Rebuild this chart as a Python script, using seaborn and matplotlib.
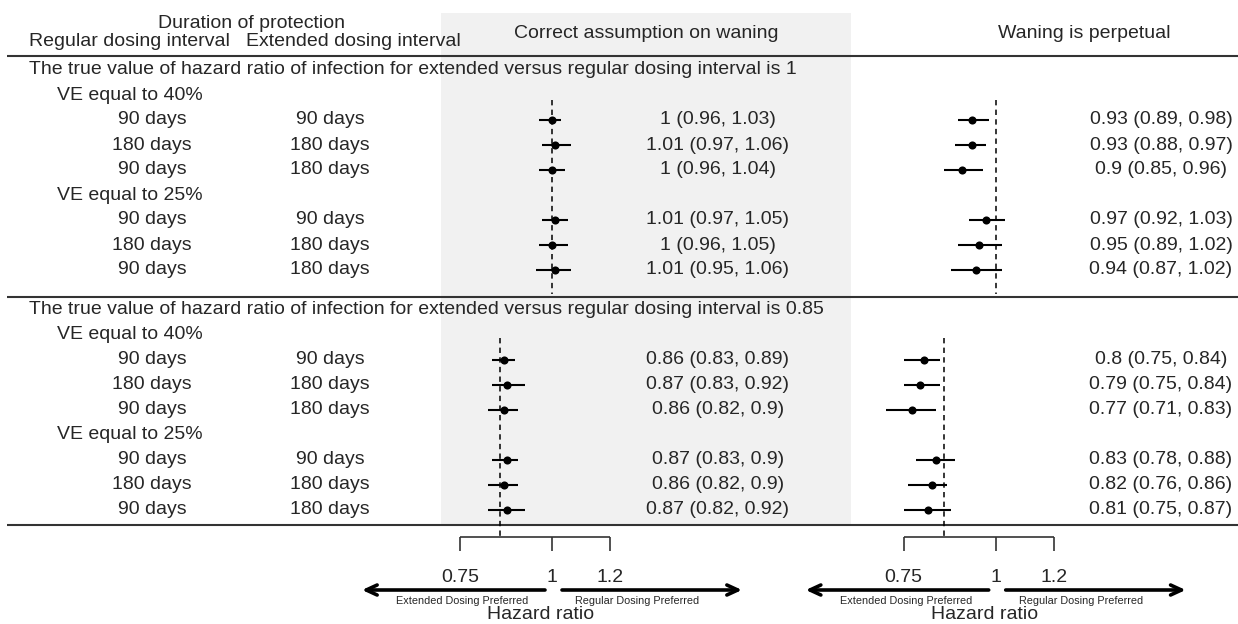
import numpy as np
import pandas as pd
import matplotlib.pyplot as plt
from matplotlib.patches import Rectangle
import seaborn as sns

## forest plot: extended vs regular dosing interval, two waning assumptions

# table columns (same for both sections)
reg_interval = ["90 days", "180 days", "90 days", "90 days", "180 days", "90 days"]
ext_interval = ["90 days", "180 days", "180 days", "90 days", "180 days", "180 days"]
ve_labels = ["VE equal to 40%", "VE equal to 25%"]
true_hr = [1, 0.85]

# correct assumption on waning
correct_est = [[1, 1.01, 1, 1.01, 1, 1.01],
               [0.86, 0.87, 0.86, 0.87, 0.86, 0.87]]
correct_lo = [[0.96, 0.97, 0.96, 0.97, 0.96, 0.95],
              [0.83, 0.83, 0.82, 0.83, 0.82, 0.82]]
correct_hi = [[1.03, 1.06, 1.04, 1.05, 1.05, 1.06],
              [0.89, 0.92, 0.9, 0.9, 0.9, 0.92]]

# waning is perpetual
perp_est = [[0.93, 0.93, 0.9, 0.97, 0.95, 0.94],
            [0.8, 0.79, 0.77, 0.83, 0.82, 0.81]]
perp_lo = [[0.89, 0.88, 0.85, 0.92, 0.89, 0.87],
           [0.75, 0.75, 0.71, 0.78, 0.76, 0.75]]
perp_hi = [[0.98, 0.97, 0.96, 1.03, 1.02, 1.02],
           [0.84, 0.84, 0.83, 0.88, 0.86, 0.87]]

x_ticks = [0.75, 1, 1.2]

sns.set_theme(style="white")
plt.rcParams['font.family'] = ['Liberation Sans', 'DejaVu Sans']
FS = 14
LINE_C = '#333333'

W, H = 1238, 624
fig = plt.figure(figsize=(W / 100, H / 100), dpi=100)

# background axes in pixel units for the table part
bg = fig.add_axes([0, 0, 1, 1])
bg.set_xlim(0, W)
bg.set_ylim(H, 0)
bg.axis('off')

sec_top = [70, 309.5]
ROW_H = 25
K = 320  # px per unit of log(HR)


def row_y(sec, i):
    return sec_top[sec] + ROW_H * i


def data_row(j):
    return 2 + j + j // 3


# gray band behind first plot panel
bg.add_patch(Rectangle((441, 13), 851 - 441, 525 - 13, color='#f1f1f1', zorder=0, lw=0))

# header
bg.text(252, 23, "Duration of protection", ha='center', va='center', fontsize=FS)
bg.text(129, 42, "Regular dosing interval", ha='center', va='center', fontsize=FS)
bg.text(353, 42, "Extended dosing interval", ha='center', va='center', fontsize=FS)
bg.text(646, 34, "Correct assumption on waning", ha='center', va='center', fontsize=FS)
bg.text(1084, 34, "Waning is perpetual", ha='center', va='center', fontsize=FS)

for yl in [56, 297, 525]:
    bg.hlines(yl, 7, W, color=LINE_C, lw=1.5, zorder=2)

for s in range(2):
    bg.text(29, row_y(s, 0),
            f"The true value of hazard ratio of infection for extended versus regular dosing interval is {true_hr[s]:g}",
            ha='left', va='center', fontsize=FS, zorder=3)
    bg.text(57, row_y(s, 1), ve_labels[0], ha='left', va='center', fontsize=FS)
    bg.text(57, row_y(s, 5), ve_labels[1], ha='left', va='center', fontsize=FS)
    for j in range(6):
        y = row_y(s, data_row(j))
        bg.text(152, y, reg_interval[j], ha='center', va='center', fontsize=FS)
        bg.text(330, y, ext_interval[j], ha='center', va='center', fontsize=FS)

panels = [
    dict(c=552, span=(441, 851), ci_x=718, est=correct_est, lo=correct_lo, hi=correct_hi),
    dict(c=995.7, span=(851, 1238), ci_x=1161, est=perp_est, lo=perp_lo, hi=perp_hi),
]

for p in panels:
    a, b = p['span']
    ax = fig.add_axes([a / W, 0, (b - a) / W, 1])
    ax.set_facecolor('none')
    ax.set_xscale('log')
    ax.set_xlim(np.exp((a - p['c']) / K), np.exp((b - p['c']) / K))
    ax.set_ylim(H, 0)
    ax.axis('off')

    rows = []
    for s in range(2):
        for j in range(6):
            rows.append(dict(est=p['est'][s][j], lo=p['lo'][s][j], hi=p['hi'][s][j],
                             y=row_y(s, data_row(j))))
    df = pd.DataFrame(rows)

    # reference lines at the true value
    ax.vlines(true_hr[0], row_y(0, 1) + 5, 294, color='black', lw=1.1,
              linestyles=(0, (3.5, 2.8)), zorder=1)
    ax.vlines(true_hr[1], row_y(1, 1) + 3, 537, color='black', lw=1.1,
              linestyles=(0, (3.5, 2.8)), zorder=1)

    ax.hlines(df['y'], df['lo'], df['hi'], color='black', lw=1.5, zorder=2)
    sns.scatterplot(data=df, x='est', y='y', ax=ax, color='black', s=34,
                    linewidth=0, legend=False, zorder=3)

    # axis bracket
    ax.hlines(537, x_ticks[0], x_ticks[-1], color=LINE_C, lw=1.2)
    ax.vlines(x_ticks, 537, 551, color=LINE_C, lw=1.2)
    for t in x_ticks:
        ax.text(t, 577, f"{t:g}", ha='center', va='center', fontsize=FS)

    for j in range(len(df)):
        r = df.iloc[j]
        bg.text(p['ci_x'], r['y'], f"{r['est']:g} ({r['lo']:g}, {r['hi']:g})",
                ha='center', va='center', fontsize=FS)

    c = p['c']
    arrow = dict(arrowstyle='->,head_length=0.65,head_width=0.3', lw=2.6,
                 color='black', shrinkA=0, shrinkB=0)
    bg.annotate('', xy=(c - 190, 590), xytext=(c - 7, 590), arrowprops=arrow)
    bg.annotate('', xy=(c + 190, 590), xytext=(c + 10, 590), arrowprops=arrow)
    bg.text(c - 90, 601, "Extended Dosing Preferred", ha='center', va='center', fontsize=7.8)
    bg.text(c + 85, 601, "Regular Dosing Preferred", ha='center', va='center', fontsize=7.8)
    bg.text(c - 11, 619, "Hazard ratio", ha='center', va='baseline', fontsize=FS)

fig.savefig("out.png", dpi=100)
